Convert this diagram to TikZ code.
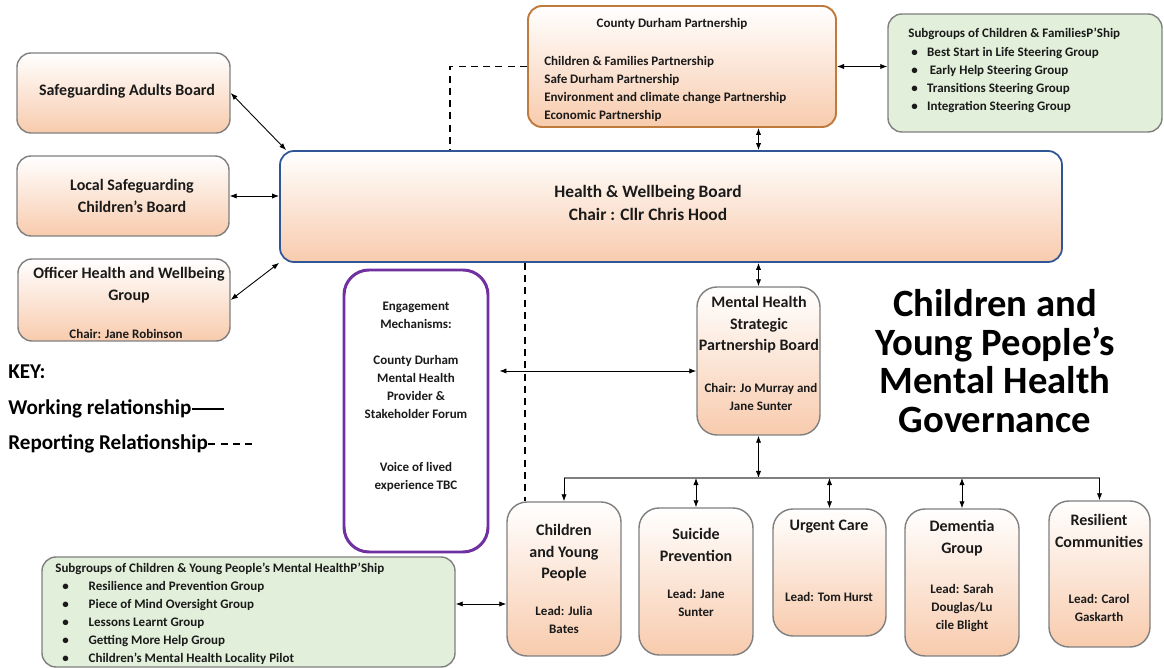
\documentclass[tikz,border=0pt]{standalone}
\usepackage{fontspec}
\setmainfont{Carlito}
\usetikzlibrary{fit}
\usetikzlibrary{calc}
\usetikzlibrary{arrows.meta}
\definecolor{color_box_line}{HTML}{7F7F7F}
\definecolor{color_box_peach}{HTML}{F8CBAD}
\definecolor{color_cdp_line}{HTML}{BF7A3E}
\definecolor{color_hwb_line}{HTML}{2F5597}
\definecolor{color_engage_line}{HTML}{7030A0}
\definecolor{color_sub_fill}{HTML}{E2EFDA}
\definecolor{color_bus_line}{HTML}{7F7F7F}
\definecolor{color_text}{HTML}{1A1A1A}
\def\boxradius{0.28cm}
\def\bigboxradius{0.4cm}
\def\smallfont{\fontsize{7.4}{10.2}\selectfont\bfseries}
\def\boxfont{\fontsize{9.1}{12.2}\selectfont\bfseries}
\def\keyfont{\fontsize{12}{14}\selectfont\bfseries}
\def\bulletgap#1{\makebox[#1][l]{\textbullet}}
\tikzset{
    peachbox/.style={draw=color_box_line, line width=0.8pt, rounded corners=\boxradius,
        top color=white, bottom color=color_box_peach, inner sep=0pt},
    subbox/.style={draw=color_box_line, line width=0.8pt, rounded corners=\boxradius,
        fill=color_sub_fill, inner sep=0pt},
    boxtext/.style={inner sep=0pt, align=center, font=\boxfont, text=color_text},
    smalltext/.style={inner sep=0pt, align=center, font=\smallfont, text=color_text},
    keytext/.style={inner sep=0pt, anchor=west, font=\keyfont},
    workrel/.style={<->, >={Latex[length=4pt,width=3pt]}, line width=0.5pt},
    downrel/.style={->, >={Latex[length=4pt,width=3pt]}, line width=0.5pt},
    reprel/.style={line width=0.9pt, dash pattern=on 4pt off 3pt},
}

\begin{document}
\begin{tikzpicture}[x=0.02cm, y=-0.02cm]
        \useasboundingbox (0,0) rectangle (1164,668);
        % boxes
        \node[peachbox, draw=color_cdp_line, line width=1.1pt, fit={(528,6) (836,127)}] (cdp) {};
        \node[subbox, fit={(888,14) (1162,132)}] (cfsub) {};
        \node[peachbox, draw=color_hwb_line, line width=1pt, fit={(280,151) (1062,262)}] (hwb) {};
        \node[peachbox, fit={(17,53) (230,133)}] (sab) {};
        \node[peachbox, fit={(17,156) (229,236)}] (lscb) {};
        \node[peachbox, fit={(18,259) (230,341)}] (ohwg) {};
        \node[draw=color_engage_line, line width=1.7pt, rounded corners=0.5cm, fill=white,
            inner sep=0pt, fit={(344,270) (488,552)}] (engage) {};
        \node[peachbox, rounded corners=\bigboxradius, fit={(697,287) (820,435)}] (mhspb) {};
        \node[peachbox, rounded corners=\bigboxradius, fit={(507,502) (621,656)}] (cyp) {};
        \node[peachbox, rounded corners=\bigboxradius, fit={(639,508) (753,655)}] (suicide) {};
        \node[peachbox, rounded corners=\bigboxradius, fit={(773,509) (886,636)}] (urgent) {};
        \node[peachbox, rounded corners=\bigboxradius, fit={(905,509) (1019,656)}] (dementia) {};
        \node[peachbox, rounded corners=\bigboxradius, fit={(1049,501) (1150,647)}] (resilient) {};
        \node[subbox, fit={(42,557) (455,667)}] (cypsub) {};

        % texts
        \node[smalltext] (cdpT) at (672,24) {County Durham Partnership};
        \node[smalltext, align=left, anchor=west] (cdpL) at (544,89)
            {Children \& Families Partnership\\Safe Durham Partnership\\Environment and climate change Partnership\\Economic Partnership};
        \node[smalltext, anchor=west] (cfsubT) at (908,34) {Subgroups of Children \& FamiliesP’Ship};
        \node[smalltext, align=left, anchor=west] (cfsubL) at (911,80)
            {\bulletgap{9pt}Best Start in Life Steering Group\\\bulletgap{10.5pt}Early Help Steering Group\\\bulletgap{9pt}Transitions Steering Group\\\bulletgap{9pt}Integration Steering Group};
        \node[boxtext, font=\fontsize{9.9}{13.6}\selectfont\bfseries] (hwbT) at (648,203) {Health \& Wellbeing Board\\Chair : Cllr Chris Hood};
        \node[boxtext] (sabT) at (127,91) {Safeguarding Adults Board};
        \node[boxtext] (lscbT) at (132,196) {Local Safeguarding\\Children's Board};
        \node[boxtext, font=\fontsize{9.1}{12.5}\selectfont\bfseries] (ohwgT) at (129,285) {Officer Health and Wellbeing\\Group};
        \node[smalltext] (ohwgC) at (126,334) {Chair: Jane Robinson};
        \node[smalltext] (engageT) at (416,397)
            {Engagement\\Mechanisms:\\[10.2pt]County Durham\\Mental Health\\Provider \&\\Stakeholder Forum\\[20.4pt]Voice of lived\\experience TBC};
        \node[boxtext] (mhspbT) at (759,325) {Mental Health\\Strategic\\Partnership Board};
        \node[smalltext] (mhspbC) at (761,397) {Chair: Jo Murray and\\Jane Sunter};
        \node[boxtext] (cypT) at (564,553) {Children\\and Young\\People};
        \node[smalltext] (cypL) at (564,620) {Lead: Julia\\Bates};
        \node[boxtext] (suicideT) at (696,545) {Suicide\\Prevention};
        \node[smalltext] (suicideL) at (696,603) {Lead: Jane\\Sunter};
        \node[boxtext] (urgentT) at (829,527) {Urgent Care};
        \node[smalltext] (urgentL) at (829,597) {Lead: Tom Hurst};
        \node[boxtext] (dementiaT) at (962,538) {Dementia\\Group};
        \node[smalltext] (dementiaL) at (962,608) {Lead: Sarah\\Douglas/Lu\\cile Blight};
        \node[boxtext] (resilientT) at (1099,531) {Resilient\\Communities};
        \node[smalltext] (resilientL) at (1099,608) {Lead: Carol\\Gaskarth};
        \node[smalltext, anchor=west] (cypsubT) at (55,569) {Subgroups of Children \& Young People’s Mental HealthP’Ship};
        \node[smalltext, align=left, anchor=west] (cypsubL) at (62,623)
            {\bulletgap{15pt}Resilience and Prevention Group\\\bulletgap{15pt}Piece of Mind Oversight Group\\\bulletgap{15pt}Lessons Learnt Group\\\bulletgap{15pt}Getting More Help Group\\\bulletgap{15pt}Children’s Mental Health Locality Pilot};

        % title
        \node[inner sep=0pt, align=center, font=\fontsize{22}{22}\selectfont\bfseries] (title) at (995,361)
            {Children and\\Young People’s\\Mental Health\\Governance};

        % key
        \node[keytext] (keyT) at (8,372) {KEY:};
        \node[keytext] (workT) at (8,409) {Working relationship};
        \node[keytext] (repT) at (8,444) {Reporting Relationship};
        \draw[line width=0.8pt] (workT.east) -- ++(32,0);
        \draw[reprel] (repT.east) -- ++(46,0);

        % working relationships
        \coordinate (engy) at (0,371);
        \coordinate (cypy) at (0,604);
        \coordinate (bus) at (0,478);
        \draw[workrel] (cdp.east) -- (cdp.east -| cfsub.west);
        \draw[workrel] (cdp.south -| mhspb.north) -- (hwb.north -| mhspb.north);
        \draw[workrel] (sab.east) -- ($(hwb.north west)+(7,0)$);
        \draw[workrel] (lscb.east) -- (lscb.east -| hwb.west);
        \draw[workrel] (ohwg.east) -- (hwb.south west);
        \draw[workrel] (hwb.south -| mhspb.north) -- (mhspb.north);
        \draw[workrel, shorten <=10pt*0.567] (engage.east |- engy) -- (mhspb.west |- engy);
        \draw[workrel] (mhspb.south) -- (mhspb.south |- bus);
        \draw[workrel] (cypsub.east |- cypy) -- (cyp.west |- cypy);

        % bus to groups
        \draw[color_bus_line, line width=0.8pt] (cyp.north |- bus) -- (resilient.north |- bus);
        \draw[downrel] (cyp.north |- bus) -- (cyp.north);
        \draw[workrel] (suicide.north |- bus) -- (suicide.north);
        \draw[workrel] (urgent.north |- bus) -- (urgent.north);
        \draw[workrel] (dementia.north |- bus) -- (dementia.north);
        \draw[downrel] (resilient.north |- bus) -- (resilient.north);

        % reporting relationships
        \coordinate (dashx) at (450,0);
        \coordinate (dashy) at (525,0);
        \draw[reprel] (cdp.west) -| (hwb.north -| dashx);
        \draw[reprel] (hwb.south -| dashy) -- (cyp.north -| dashy);
    \end{tikzpicture}
\end{document}
